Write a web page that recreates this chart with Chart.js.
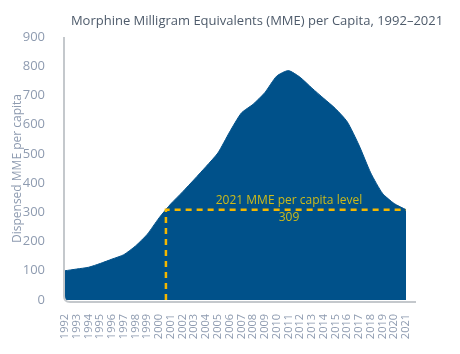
<!DOCTYPE html>
<html>
<head>
<meta charset="utf-8">
<script src="https://cdn.jsdelivr.net/npm/chart.js@4.4.0/dist/chart.umd.min.js"></script>
<style>
  html, body { margin: 0; padding: 0; background: #fff; }
  #wrap { width: 460px; height: 354px; position: relative; }
</style>
</head>
<body>
<div id="wrap"><canvas id="mmeChart"></canvas></div>
<script>
const years = [1992, 1993, 1994, 1995, 1996, 1997, 1998, 1999, 2000, 2001,
  2002, 2003, 2004, 2005, 2006, 2007, 2008, 2009, 2010, 2011,
  2012, 2013, 2014, 2015, 2016, 2017, 2018, 2019, 2020, 2021];
const mmePerCapita = [100, 106, 112, 125, 140, 155, 185, 225, 281, 329,
  370, 413, 457, 503, 575, 640, 670, 710, 766, 785,
  762, 725, 690, 655, 610, 530, 435, 365, 330, 309];
const yTicks = [0, 100, 200, 300, 400, 500, 600, 700, 800, 900];
const level2021 = mmePerCapita[mmePerCapita.length - 1];
const levelLabel = '2021 MME per capita level';
const chartTitle = 'Morphine Milligram Equivalents (MME) per Capita, 1992–2021';

// year where the series first reaches the 2021 level
let crossYear = years[0];
for (let i = 1; i < years.length; i++) {
  if (mmePerCapita[i] >= level2021) {
    const t = (level2021 - mmePerCapita[i - 1]) / (mmePerCapita[i] - mmePerCapita[i - 1]);
    crossYear = years[i - 1] + t * (years[i] - years[i - 1]);
    break;
  }
}

const font = "'Open Sans', 'Noto Sans', sans-serif";

const decorations = {
  id: 'decorations',
  afterDatasetsDraw(chart) {
    const { ctx, chartArea } = chart;
    const { left, right, top, bottom } = chartArea;
    ctx.save();
    // axis lines with rounded corner
    ctx.strokeStyle = '#c4c8cc';
    ctx.lineWidth = 2;
    ctx.beginPath();
    ctx.moveTo(left - 1, top);
    ctx.lineTo(left - 1, bottom - 4);
    ctx.quadraticCurveTo(left - 1, bottom + 2, left + 5, bottom + 2);
    ctx.lineTo(right + 10, bottom + 2);
    ctx.stroke();

    // title
    ctx.fillStyle = '#4e5b6b';
    ctx.font = '13px ' + font;
    ctx.textAlign = 'center';
    ctx.textBaseline = 'middle';
    ctx.fillText(chartTitle, 257, 21);

    // level annotation
    const x = chart.scales.x;
    const y = chart.scales.y;
    const cx = (x.getPixelForValue(crossYear) + x.getPixelForValue(years[years.length - 1])) / 2;
    const ly = y.getPixelForValue(level2021);
    ctx.fillStyle = '#cdbb1a';
    ctx.font = '12px ' + font;
    ctx.textBaseline = 'bottom';
    ctx.fillText(levelLabel, cx + 3, ly - 3);
    ctx.textBaseline = 'top';
    ctx.fillText(String(level2021), cx + 3, ly + 2);
    ctx.restore();
  }
};

new Chart(document.getElementById('mmeChart'), {
  type: 'line',
  data: {
    datasets: [
      {
        label: 'Level',
        data: [
          { x: crossYear, y: 0 },
          { x: crossYear, y: level2021 },
          { x: years[years.length - 1], y: level2021 }
        ],
        borderColor: '#f5b800',
        borderWidth: 2.5,
        borderDash: [6, 5],
        pointRadius: 0,
        fill: false,
        tension: 0,
        order: 0
      },
      {
        label: 'MME per capita',
        data: years.map((yr, i) => ({ x: yr, y: mmePerCapita[i] })),
        borderColor: '#00518a',
        backgroundColor: '#00518a',
        borderWidth: 1,
        pointRadius: 0,
        fill: 'origin',
        tension: 0.2,
        order: 1
      }
    ]
  },
  options: {
    responsive: true,
    maintainAspectRatio: false,
    animation: false,
    layout: { padding: { top: 37, right: 54, bottom: 0, left: 0 } },
    plugins: {
      legend: { display: false },
      tooltip: { enabled: false },
      title: { display: false }
    },
    scales: {
      x: {
        type: 'linear',
        min: years[0],
        max: years[years.length - 1],
        grid: { display: false },
        border: { display: false },
        afterBuildTicks(scale) {
          scale.ticks = years.map(v => ({ value: v }));
        },
        afterFit(scale) { scale.height = 54; },
        ticks: {
          autoSkip: false,
          maxRotation: 90,
          minRotation: 90,
          padding: 6,
          color: '#8e9bb0',
          font: { family: font, size: 11 },
          callback: v => String(v)
        }
      },
      y: {
        min: 0,
        max: 900,
        grid: { display: false },
        border: { display: false },
        afterBuildTicks(scale) {
          scale.ticks = yTicks.map(v => ({ value: v }));
        },
        afterFit(scale) { scale.width = 65; },
        ticks: {
          padding: 12,
          color: '#8e9bb0',
          font: { family: font, size: 13 }
        },
        title: {
          display: true,
          text: 'Dispensed MME per capita',
          color: '#8e9bb0',
          font: { family: font, size: 12 },
          padding: { top: 10, bottom: 0 }
        }
      }
    }
  },
  plugins: [decorations]
});
</script>
</body>
</html>
